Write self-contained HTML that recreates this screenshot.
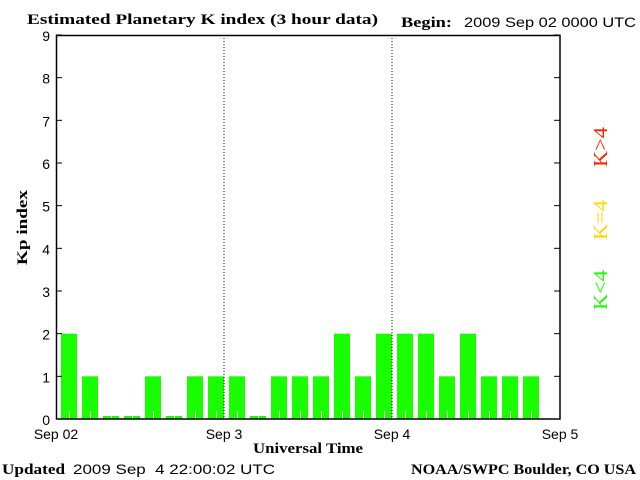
<!DOCTYPE html>
<html><head><meta charset="utf-8"><style>
html,body{margin:0;padding:0;background:#fff;}
svg{display:block}
.s{font-family:"Liberation Sans",sans-serif;font-size:14px;fill:#000}
.b{font-family:"Liberation Serif",serif;font-weight:bold;font-size:15px;fill:#000}
</style></head><body>
<svg width="640" height="480" xmlns="http://www.w3.org/2000/svg">
<text class="b" x="27" y="24" textLength="351" lengthAdjust="spacingAndGlyphs">Estimated Planetary K index (3 hour data)</text>
<text class="b" x="401" y="27" textLength="51" lengthAdjust="spacingAndGlyphs">Begin:</text>
<text class="s" x="464" y="27" textLength="172" lengthAdjust="spacingAndGlyphs">2009 Sep 02 0000 UTC</text>
<g id="bars" fill="#1aff00"></g>
<line x1="224" y1="35" x2="224" y2="419" stroke="#000" stroke-dasharray="1,2"/>
<line x1="392" y1="35" x2="392" y2="419" stroke="#000" stroke-dasharray="1,2"/>
<rect x="56.5" y="35.5" width="503.5" height="383.5" fill="none" stroke="#000" stroke-width="1.5"/>
<g id="ticks" stroke="#000" stroke-width="1"></g>
<g class="s" text-anchor="end" id="yl"></g>
<text class="s" x="56" y="439" text-anchor="middle">Sep 02</text>
<text class="s" x="224" y="439" text-anchor="middle">Sep 3</text>
<text class="s" x="392" y="439" text-anchor="middle">Sep 4</text>
<text class="s" x="560" y="439" text-anchor="middle">Sep 5</text>
<text class="b" x="253" y="453" textLength="110" lengthAdjust="spacingAndGlyphs">Universal Time</text>
<text class="b" transform="translate(27,265) rotate(-90)" textLength="75" lengthAdjust="spacingAndGlyphs">Kp index</text>
<text class="b" x="2" y="474" textLength="63" lengthAdjust="spacingAndGlyphs">Updated</text>
<text class="s" x="73" y="474" textLength="202" lengthAdjust="spacingAndGlyphs" xml:space="preserve">2009 Sep  4 22:00:02 UTC</text>
<text class="b" x="411" y="474" textLength="225" lengthAdjust="spacingAndGlyphs">NOAA/SWPC Boulder, CO USA</text>
<text transform="translate(607,310) rotate(-90)" textLength="40" lengthAdjust="spacingAndGlyphs" style="font-family:'Liberation Serif',serif;fill:#1aff00;font-size:20px">K&lt;4</text>
<text transform="translate(607,240) rotate(-90)" textLength="40" lengthAdjust="spacingAndGlyphs" style="font-family:'Liberation Serif',serif;fill:#ffd700;font-size:20px">K=4</text>
<text transform="translate(607,167) rotate(-90)" textLength="40" lengthAdjust="spacingAndGlyphs" style="font-family:'Liberation Serif',serif;fill:#ff2000;font-size:20px">K&gt;4</text>
<script>
var v=[2,1,0,0,1,0,1,1,1,0,1,1,1,2,1,2,2,2,1,2,1,1,1];
var u=42.67,b=419,g=document.getElementById('bars'),t=document.getElementById('ticks'),yl=document.getElementById('yl');
var ns="http://www.w3.org/2000/svg";
function el(p,n,a){var e=document.createElementNS(ns,n);for(var k in a)e.setAttribute(k,a[k]);p.appendChild(e);return e;}
v.forEach(function(k,i){var x=61+21*i;var h=k==0?3:k*u;el(g,'rect',{x:x,y:b-h,width:16,height:h});
el(g,'line',{x1:x+8.5,y1:411,x2:x+8.5,y2:419,stroke:'#fff'});});
for(var k=0;k<=9;k++){var y=b-k*u;
el(t,'line',{x1:56,y1:y,x2:62,y2:y});el(t,'line',{x1:554,y1:y,x2:560,y2:y});
var tx=el(yl,'text',{x:50,y:y+6});tx.textContent=k;}
</script>
</svg>
</body></html>
